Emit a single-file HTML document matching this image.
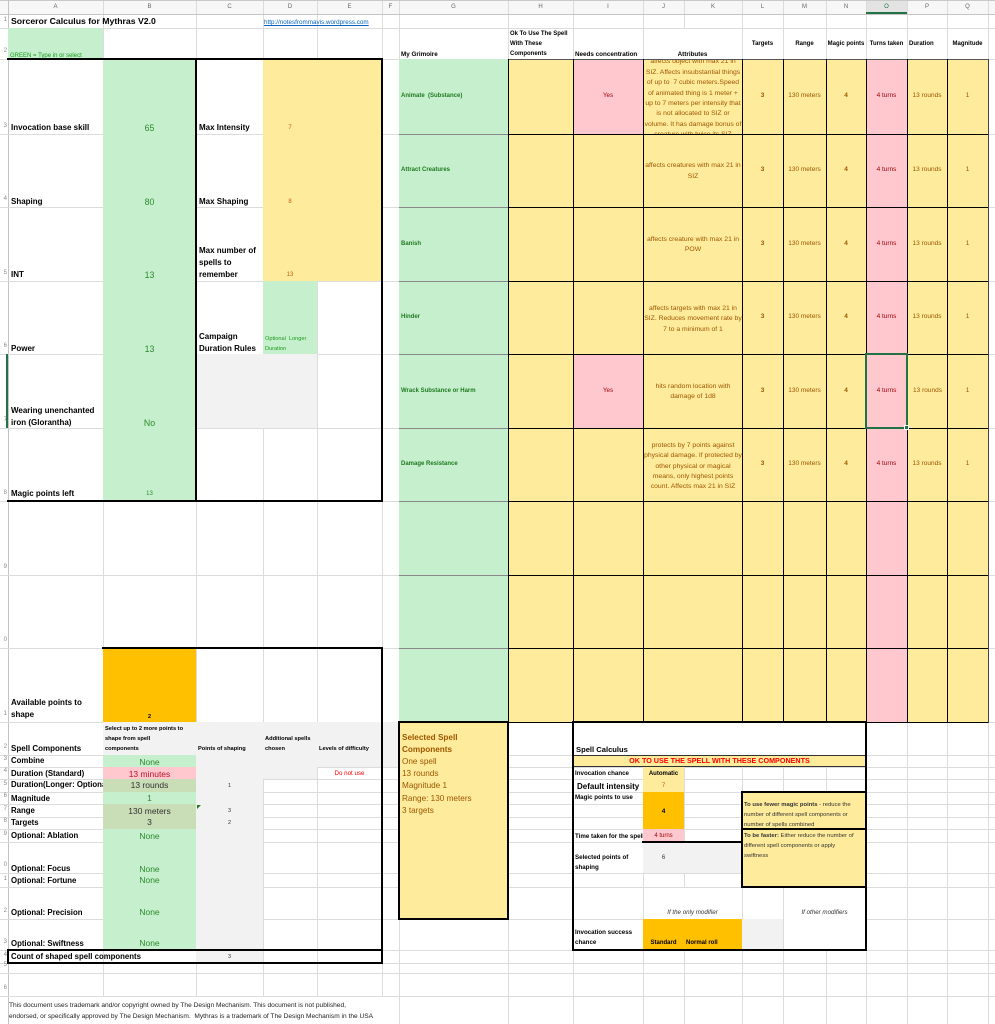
<!DOCTYPE html>
<html><head><meta charset="utf-8">
<style>
*{margin:0;padding:0;box-sizing:border-box}
html,body{width:995px;height:1024px;overflow:hidden;background:#fff}
body{position:relative;font-family:"Liberation Sans",Arial,sans-serif;color:#000}
div{position:absolute}
.h{left:0;width:995px;height:1px;background:#dcdcdc}
.v{top:0;width:1px;background:#dcdcdc}
.t{white-space:nowrap;overflow:hidden;display:flex;align-items:center;height:12px;line-height:12px}
.c{justify-content:center}
.b{font-weight:bold}
.gt{color:#2d8a2d}
.yt{color:#9c5700}
.rt{color:#9c0006}
.K{background:#000}
.gn{background:#c6efce}
.yw{background:#ffeb9c}
.pk{background:#ffc7ce}
.or{background:#ffc000}
.gy{background:#f2f2f2}
.ol{background:#c9ddb6}
.hd{top:1px;font-size:6px;color:#666}
.rn{left:0;width:7px;justify-content:flex-end;font-size:6px;color:#888}
.at{overflow:hidden;color:#9c5700;font-size:6.8px}
.at div{position:absolute;left:0;width:100%;text-align:center;line-height:10.4px;white-space:nowrap}
.lb{left:11px;font-size:8px;font-weight:bold}
.bv{left:103px;width:93px;justify-content:center;font-size:8.5px}
.gr{left:401px;width:106px;font-size:6px;font-weight:bold;color:#1f7a1f}
.vv{font-size:6.5px;color:#9c5700;justify-content:center}
.ck{left:575px;font-size:6.2px;font-weight:bold}
.sb{left:402px;width:104px;font-size:8.2px;color:#9c5700}
.bx{left:744px;width:121px;font-size:5.9px;color:#333}
</style></head><body>

<!-- header bar -->
<div style="left:0;top:0;width:995px;height:14px;background:#f7f7f7"></div>
<div style="left:866px;top:0;width:41px;height:14px;background:#e3e3e3"></div>

<!-- vertical gridlines -->
<div class="v" style="left:8px;height:1024px;background:#c4c4c4"></div>
<div class="v" style="left:103px;height:996px"></div>
<div class="v" style="left:196px;height:996px"></div>
<div class="v" style="left:263px;height:996px"></div>
<div class="v" style="left:317px;height:996px"></div>
<div class="v" style="left:382px;height:996px"></div>
<div class="v" style="left:399px;height:1024px"></div>
<div class="v" style="left:508px;height:1024px"></div>
<div class="v" style="left:573px;height:1024px"></div>
<div class="v" style="left:643px;height:1024px"></div>
<div class="v" style="left:684px;height:1024px"></div>
<div class="v" style="left:742px;height:1024px"></div>
<div class="v" style="left:783px;height:1024px"></div>
<div class="v" style="left:826px;height:1024px"></div>
<div class="v" style="left:866px;height:1024px"></div>
<div class="v" style="left:907px;height:1024px"></div>
<div class="v" style="left:947px;height:1024px"></div>
<div class="v" style="left:988px;height:1024px"></div>

<!-- horizontal gridlines -->
<div class="h" style="top:0;background:#c8c8c8"></div>
<div class="h" style="top:14px;background:#c4c4c4"></div>
<div class="h" style="top:28px"></div>
<div class="h" style="top:59px"></div>
<div class="h" style="top:134px"></div>
<div class="h" style="top:207px"></div>
<div class="h" style="top:281px"></div>
<div class="h" style="top:354px"></div>
<div class="h" style="top:428px"></div>
<div class="h" style="top:501px"></div>
<div class="h" style="top:575px"></div>
<div class="h" style="top:648px"></div>
<div class="h" style="top:722px"></div>
<div class="h" style="top:755px"></div>
<div class="h" style="top:767px"></div>
<div class="h" style="top:779px"></div>
<div class="h" style="top:792px"></div>
<div class="h" style="top:804px"></div>
<div class="h" style="top:817px"></div>
<div class="h" style="top:829px"></div>
<div class="h" style="top:842px"></div>
<div class="h" style="top:873px"></div>
<div class="h" style="top:887px"></div>
<div class="h" style="top:919px"></div>
<div class="h" style="top:950px"></div>
<div class="h" style="top:963px"></div>
<div class="h" style="top:973px"></div>
<div class="h" style="top:996px"></div>

<div style="left:866px;top:12px;width:41px;height:2px;background:#217346"></div>

<!-- header letters -->
<div class="t c hd" style="left:8px;width:95px">A</div>
<div class="t c hd" style="left:103px;width:93px">B</div>
<div class="t c hd" style="left:196px;width:67px">C</div>
<div class="t c hd" style="left:263px;width:54px">D</div>
<div class="t c hd" style="left:317px;width:65px">E</div>
<div class="t c hd" style="left:382px;width:17px">F</div>
<div class="t c hd" style="left:399px;width:109px">G</div>
<div class="t c hd" style="left:508px;width:65px">H</div>
<div class="t c hd" style="left:573px;width:70px">I</div>
<div class="t c hd" style="left:643px;width:41px">J</div>
<div class="t c hd" style="left:684px;width:58px">K</div>
<div class="t c hd" style="left:742px;width:41px">L</div>
<div class="t c hd" style="left:783px;width:43px">M</div>
<div class="t c hd" style="left:826px;width:40px">N</div>
<div class="t c hd" style="left:866px;width:41px;color:#217346">O</div>
<div class="t c hd" style="left:907px;width:40px">P</div>
<div class="t c hd" style="left:947px;width:41px">Q</div>

<!-- row numbers -->
<div class="t rn" style="top:14px">1</div>
<div class="t rn" style="top:45px">2</div>
<div class="t rn" style="top:120px">3</div>
<div class="t rn" style="top:193px">4</div>
<div class="t rn" style="top:267px">5</div>
<div class="t rn" style="top:340px">6</div>
<div class="t rn" style="top:414px">7</div>
<div class="t rn" style="top:487px">8</div>
<div class="t rn" style="top:561px">9</div>
<div class="t rn" style="top:634px">0</div>
<div class="t rn" style="top:708px">1</div>
<div class="t rn" style="top:741px">2</div>
<div class="t rn" style="top:753px">3</div>
<div class="t rn" style="top:765px">4</div>
<div class="t rn" style="top:778px">5</div>
<div class="t rn" style="top:790px">6</div>
<div class="t rn" style="top:803px">7</div>
<div class="t rn" style="top:815px">8</div>
<div class="t rn" style="top:828px">9</div>
<div class="t rn" style="top:859px">0</div>
<div class="t rn" style="top:873px">1</div>
<div class="t rn" style="top:905px">2</div>
<div class="t rn" style="top:936px">3</div>
<div class="t rn" style="top:949px">4</div>
<div class="t rn" style="top:959px">5</div>
<div class="t rn" style="top:982px">6</div>
<div style="left:6px;top:354px;width:2px;height:74px;background:#217346"></div>

<!-- LEFT fills -->
<div class="gn" style="left:8px;top:28px;width:95px;height:31px"></div>
<div class="gn" style="left:103px;top:59px;width:93px;height:442px"></div>
<div class="yw" style="left:263px;top:59px;width:119px;height:222px"></div>
<div class="gn" style="left:263px;top:281px;width:54px;height:73px"></div>
<div class="gy" style="left:196px;top:354px;width:121px;height:74px"></div>
<div class="or" style="left:103px;top:648px;width:93px;height:74px"></div>
<div class="gy" style="left:103px;top:722px;width:296px;height:33px"></div>
<div class="gy" style="left:196px;top:755px;width:203px;height:12px"></div>
<div class="gy" style="left:196px;top:767px;width:121px;height:12px"></div>
<div class="gy" style="left:196px;top:779px;width:67px;height:184px"></div>
<div class="gn" style="left:103px;top:755px;width:93px;height:12px"></div>
<div class="pk" style="left:103px;top:767px;width:93px;height:12px"></div>
<div class="ol" style="left:103px;top:779px;width:93px;height:13px"></div>
<div class="gn" style="left:103px;top:792px;width:93px;height:12px"></div>
<div class="ol" style="left:103px;top:804px;width:93px;height:25px"></div>
<div class="gn" style="left:103px;top:829px;width:93px;height:121px"></div>
<div style="left:197px;top:805px;width:0;height:0;border-top:4px solid #1e7b1e;border-right:4px solid transparent"></div>

<!-- RIGHT fills -->
<div style="left:644px;top:29px;width:98px;height:30px;background:#fff"></div>
<div class="gn" style="left:399px;top:59px;width:109px;height:663px"></div>
<div class="yw" style="left:508px;top:59px;width:480px;height:663px"></div>
<div class="pk" style="left:573px;top:59px;width:70px;height:75px"></div>
<div class="pk" style="left:573px;top:354px;width:70px;height:74px"></div>
<div class="pk" style="left:866px;top:59px;width:41px;height:663px"></div>

<!-- right grid borders -->
<div style="left:508px;top:59px;width:481px;height:1px;background:#555"></div>
<div class="K" style="left:508px;top:134px;width:481px;height:1px"></div>
<div class="K" style="left:508px;top:207px;width:481px;height:1px"></div>
<div class="K" style="left:508px;top:281px;width:481px;height:1px"></div>
<div class="K" style="left:508px;top:354px;width:481px;height:1px"></div>
<div class="K" style="left:508px;top:428px;width:481px;height:1px"></div>
<div class="K" style="left:508px;top:501px;width:481px;height:1px"></div>
<div class="K" style="left:508px;top:575px;width:481px;height:1px"></div>
<div class="K" style="left:508px;top:648px;width:481px;height:1px"></div>
<div class="K" style="left:508px;top:722px;width:481px;height:1px"></div>
<div style="left:399px;top:134px;width:109px;height:1px;background:#888"></div>
<div style="left:399px;top:207px;width:109px;height:1px;background:#888"></div>
<div style="left:399px;top:281px;width:109px;height:1px;background:#888"></div>
<div style="left:399px;top:354px;width:109px;height:1px;background:#888"></div>
<div style="left:399px;top:428px;width:109px;height:1px;background:#888"></div>
<div style="left:399px;top:501px;width:109px;height:1px;background:#888"></div>
<div style="left:399px;top:575px;width:109px;height:1px;background:#888"></div>
<div style="left:399px;top:648px;width:109px;height:1px;background:#888"></div>
<div style="left:399px;top:722px;width:109px;height:1px;background:#888"></div>
<div class="K" style="left:508px;top:59px;width:1px;height:664px"></div>
<div class="K" style="left:573px;top:59px;width:1px;height:664px"></div>
<div class="K" style="left:643px;top:59px;width:1px;height:664px"></div>
<div class="K" style="left:742px;top:59px;width:1px;height:664px"></div>
<div class="K" style="left:783px;top:59px;width:1px;height:664px"></div>
<div class="K" style="left:826px;top:59px;width:1px;height:664px"></div>
<div class="K" style="left:866px;top:59px;width:1px;height:664px"></div>
<div class="K" style="left:907px;top:59px;width:1px;height:664px"></div>
<div class="K" style="left:947px;top:59px;width:1px;height:664px"></div>
<div style="left:988px;top:59px;width:1px;height:664px;background:#444"></div>

<!-- selected cell O7 -->
<div style="left:865px;top:353px;width:43px;height:76px;border:2px solid #217346"></div>
<div style="left:904px;top:425px;width:5px;height:5px;background:#217346;border:1px solid #fff"></div>

<!-- LEFT boxes -->
<div class="K" style="left:7px;top:58px;width:376px;height:2px"></div>
<div class="K" style="left:7px;top:500px;width:376px;height:2px"></div>
<div class="K" style="left:381px;top:58px;width:2px;height:444px"></div>
<div class="K" style="left:195px;top:58px;width:2px;height:444px"></div>
<div class="K" style="left:102px;top:647px;width:281px;height:2px"></div>
<div class="K" style="left:381px;top:647px;width:2px;height:317px"></div>
<div class="K" style="left:7px;top:949px;width:376px;height:2px"></div>
<div class="K" style="left:7px;top:962px;width:376px;height:2px"></div>
<div class="K" style="left:7px;top:949px;width:2px;height:15px"></div>

<!-- LOWER RIGHT -->
<div class="yw" style="left:398px;top:721px;width:111px;height:199px;border:2px solid #000"></div>
<div style="left:573px;top:723px;width:293px;height:32px;background:#fff"></div>
<div class="yw" style="left:573px;top:755px;width:293px;height:12px;border-top:1px solid #333;border-bottom:1px solid #333"></div>
<div class="yw" style="left:643px;top:767px;width:41px;height:25px"></div>
<div class="or" style="left:643px;top:792px;width:41px;height:37px"></div>
<div class="pk" style="left:643px;top:829px;width:41px;height:13px"></div>
<div class="gy" style="left:643px;top:843px;width:99px;height:30px"></div>
<div style="left:644px;top:888px;width:98px;height:31px;background:#fff"></div>
<div style="left:784px;top:888px;width:82px;height:62px;background:#fff"></div>
<div class="or" style="left:643px;top:919px;width:99px;height:31px"></div>
<div class="gy" style="left:742px;top:919px;width:41px;height:31px"></div>
<div class="K" style="left:642px;top:841px;width:101px;height:2px"></div>
<div class="yw" style="left:741px;top:791px;width:126px;height:97px;border:2px solid #000"></div>
<div class="K" style="left:741px;top:828px;width:126px;height:2px"></div>
<div style="left:572px;top:721px;width:295px;height:230px;border:2px solid #000"></div>

<!-- ===== TEXT ===== -->
<div class="t b" style="left:11px;top:15px;width:250px;font-size:8.7px">Sorceror Calculus for Mythras V2.0</div>
<div class="t" style="left:264px;top:17px;width:118px;font-size:6.3px;color:#0563c1"><span style="text-decoration:underline">http://notesfrommavis.wordpress.com</span></div>
<div class="t" style="left:10px;top:50px;width:93px;font-size:6px;color:#1a9a1a">GREEN = Type in or select</div>

<div class="t b" style="left:401px;top:49px;width:106px;font-size:6.3px">My Grimoire</div>
<div class="t b" style="left:510px;top:28px;width:63px;font-size:6px">Ok To Use The Spell</div>
<div class="t b" style="left:510px;top:38px;width:63px;font-size:6px">With These</div>
<div class="t b" style="left:510px;top:48px;width:63px;font-size:6px">Components</div>
<div class="t b" style="left:575px;top:49px;width:68px;font-size:6.3px">Needs concentration</div>
<div class="t b c" style="left:643px;top:49px;width:99px;font-size:6.3px">Attributes</div>
<div class="t b c" style="left:742px;top:38px;width:41px;font-size:6px">Targets</div>
<div class="t b c" style="left:783px;top:38px;width:43px;font-size:6px">Range</div>
<div class="t b c" style="left:826px;top:38px;width:40px;font-size:6px">Magic points</div>
<div class="t b c" style="left:866px;top:38px;width:41px;font-size:6px">Turns taken</div>
<div class="t b" style="left:909px;top:38px;width:38px;font-size:6px">Duration</div>
<div class="t b c" style="left:947px;top:38px;width:41px;font-size:6px">Magnitude</div>

<!-- left labels rows 3-8 -->
<div class="t lb" style="top:122px;width:92px">Invocation base skill</div>
<div class="t lb" style="top:196px;width:92px">Shaping</div>
<div class="t lb" style="top:269px;width:92px">INT</div>
<div class="t lb" style="top:343px;width:92px">Power</div>
<div class="t lb" style="top:405px;width:92px">Wearing unenchanted</div>
<div class="t lb" style="top:417px;width:92px">iron (Glorantha)</div>
<div class="t lb" style="top:488px;width:92px">Magic points left</div>
<div class="t bv gt" style="top:122px;font-size:8.8px">65</div>
<div class="t bv gt" style="top:196px;font-size:8.8px">80</div>
<div class="t bv gt" style="top:269px;font-size:8.8px">13</div>
<div class="t bv gt" style="top:343px;font-size:8.8px">13</div>
<div class="t bv gt" style="top:417px;font-size:8.8px">No</div>
<div class="t bv gt" style="top:488px;font-size:6px">13</div>

<div class="t b" style="left:199px;top:122px;width:64px;font-size:8px">Max Intensity</div>
<div class="t b" style="left:199px;top:196px;width:64px;font-size:8px">Max Shaping</div>
<div class="t b" style="left:199px;top:245px;width:64px;font-size:8px">Max number of</div>
<div class="t b" style="left:199px;top:257px;width:64px;font-size:8px">spells to</div>
<div class="t b" style="left:199px;top:269px;width:64px;font-size:8px">remember</div>
<div class="t b" style="left:199px;top:331px;width:64px;font-size:8px">Campaign</div>
<div class="t b" style="left:199px;top:343px;width:64px;font-size:8px">Duration Rules</div>
<div class="t c" style="left:263px;top:122px;width:54px;font-size:6px;color:#c55a11">7</div>
<div class="t c" style="left:263px;top:196px;width:54px;font-size:6px;color:#c55a11">8</div>
<div class="t c" style="left:263px;top:269px;width:54px;font-size:6px;color:#c55a11">13</div>
<div class="t gt" style="left:265px;top:333px;width:60px;font-size:5.6px;color:#1a9a1a">Optional&nbsp; Longer</div>
<div class="t gt" style="left:265px;top:343px;width:52px;font-size:5.6px;color:#1a9a1a">Duration</div>

<!-- grimoire rows -->
<div class="t gr" style="top:90px">Animate&nbsp; (Substance)</div>
<div class="t gr" style="top:164px">Attract Creatures</div>
<div class="t gr" style="top:238px">Banish</div>
<div class="t gr" style="top:311px">Hinder</div>
<div class="t gr" style="top:385px">Wrack Substance or Harm</div>
<div class="t gr" style="top:458px">Damage Resistance</div>
<div class="t c rt" style="left:573px;top:90px;width:70px;font-size:6.2px">Yes</div>
<div class="t c rt" style="left:573px;top:385px;width:70px;font-size:6.2px">Yes</div>

<div class="at" style="left:644px;top:60px;width:98px;height:74px"><div style="top:-2.7px">affects object with max 21 in<br>SIZ. Affects insubstantial things<br>of up to&nbsp; 7 cubic meters.Speed<br>of animated thing is 1 meter +<br>up to 7 meters per intensity that<br>is not allocated to SIZ or<br>volume. It has damage bonus of<br>creature with twice its SIZ</div></div>
<div class="at" style="left:644px;top:135px;width:98px;height:72px"><div style="top:26.1px">affects creatures with max 21 in<br>SIZ</div></div>
<div class="at" style="left:644px;top:208px;width:98px;height:73px"><div style="top:26.8px">affects creature with max 21 in<br>POW</div></div>
<div class="at" style="left:644px;top:282px;width:98px;height:72px"><div style="top:21.8px">affects targets with max 21 in<br>SIZ. Reduces movement rate by<br>7 to a minimum of 1</div></div>
<div class="at" style="left:644px;top:355px;width:98px;height:73px"><div style="top:26.8px">hits random location with<br>damage of 1d8</div></div>
<div class="at" style="left:644px;top:429px;width:98px;height:72px"><div style="top:11.8px">protects by 7 points against<br>physical damage. If protected by<br>other physical or magical<br>means, only highest points<br>count. Affects max 21 in SIZ</div></div>

<!-- L-Q values -->
<div class="t vv b" style="left:742px;top:90px;width:41px">3</div>
<div class="t vv" style="left:783px;top:90px;width:43px">130 meters</div>
<div class="t vv b" style="left:826px;top:90px;width:40px">4</div>
<div class="t vv rt" style="left:866px;top:90px;width:41px;color:#9c0006">4 turns</div>
<div class="t vv" style="left:907px;top:90px;width:40px">13 rounds</div>
<div class="t vv" style="left:947px;top:90px;width:41px">1</div>

<div class="t vv b" style="left:742px;top:164px;width:41px">3</div>
<div class="t vv" style="left:783px;top:164px;width:43px">130 meters</div>
<div class="t vv b" style="left:826px;top:164px;width:40px">4</div>
<div class="t vv" style="left:866px;top:164px;width:41px;color:#9c0006">4 turns</div>
<div class="t vv" style="left:907px;top:164px;width:40px">13 rounds</div>
<div class="t vv" style="left:947px;top:164px;width:41px">1</div>

<div class="t vv b" style="left:742px;top:238px;width:41px">3</div>
<div class="t vv" style="left:783px;top:238px;width:43px">130 meters</div>
<div class="t vv b" style="left:826px;top:238px;width:40px">4</div>
<div class="t vv" style="left:866px;top:238px;width:41px;color:#9c0006">4 turns</div>
<div class="t vv" style="left:907px;top:238px;width:40px">13 rounds</div>
<div class="t vv" style="left:947px;top:238px;width:41px">1</div>

<div class="t vv b" style="left:742px;top:311px;width:41px">3</div>
<div class="t vv" style="left:783px;top:311px;width:43px">130 meters</div>
<div class="t vv b" style="left:826px;top:311px;width:40px">4</div>
<div class="t vv" style="left:866px;top:311px;width:41px;color:#9c0006">4 turns</div>
<div class="t vv" style="left:907px;top:311px;width:40px">13 rounds</div>
<div class="t vv" style="left:947px;top:311px;width:41px">1</div>

<div class="t vv b" style="left:742px;top:385px;width:41px">3</div>
<div class="t vv" style="left:783px;top:385px;width:43px">130 meters</div>
<div class="t vv b" style="left:826px;top:385px;width:40px">4</div>
<div class="t vv" style="left:867px;top:385px;width:39px;color:#9c0006">4 turns</div>
<div class="t vv" style="left:908px;top:385px;width:39px">13 rounds</div>
<div class="t vv" style="left:947px;top:385px;width:41px">1</div>

<div class="t vv b" style="left:742px;top:458px;width:41px">3</div>
<div class="t vv" style="left:783px;top:458px;width:43px">130 meters</div>
<div class="t vv b" style="left:826px;top:458px;width:40px">4</div>
<div class="t vv" style="left:866px;top:458px;width:41px;color:#9c0006">4 turns</div>
<div class="t vv" style="left:907px;top:458px;width:40px">13 rounds</div>
<div class="t vv" style="left:947px;top:458px;width:41px">1</div>

<!-- row 11-12 -->
<div class="t lb" style="top:697px;width:92px">Available points to</div>
<div class="t lb" style="top:709px;width:92px">shape</div>
<div class="t b c" style="left:103px;top:711px;width:93px;font-size:5.8px">2</div>
<div class="t lb" style="top:743px;width:92px">Spell Components</div>
<div class="t b" style="left:105px;top:723px;width:91px;font-size:5.7px">Select up to 2 more points to</div>
<div class="t b" style="left:105px;top:733px;width:91px;font-size:5.7px">shape from spell</div>
<div class="t b" style="left:105px;top:743px;width:91px;font-size:5.7px">components</div>
<div class="t b" style="left:198px;top:743px;width:65px;font-size:5.7px">Points of shaping</div>
<div class="t b" style="left:265px;top:733px;width:52px;font-size:5.7px">Additional spells</div>
<div class="t b" style="left:265px;top:743px;width:52px;font-size:5.7px">chosen</div>
<div class="t b" style="left:319px;top:743px;width:63px;font-size:5.7px">Levels of difficulty</div>

<!-- rows 13-24 -->
<div class="t lb" style="top:755px;width:92px;font-size:7.8px">Combine</div>
<div class="t lb" style="top:768px;width:92px;font-size:7.8px">Duration (Standard)</div>
<div class="t lb" style="top:779px;width:92px;font-size:7.8px">Duration(Longer: Optional)</div>
<div class="t lb" style="top:793px;width:92px;font-size:7.8px">Magnitude</div>
<div class="t lb" style="top:805px;width:92px;font-size:7.8px">Range</div>
<div class="t lb" style="top:817px;width:92px;font-size:7.8px">Targets</div>
<div class="t lb" style="top:830px;width:92px;font-size:7.8px">Optional: Ablation</div>
<div class="t lb" style="top:863px;width:92px;font-size:7.8px">Optional: Focus</div>
<div class="t lb" style="top:875px;width:92px;font-size:7.8px">Optional: Fortune</div>
<div class="t lb" style="top:907px;width:92px;font-size:7.8px">Optional: Precision</div>
<div class="t lb" style="top:938px;width:92px;font-size:7.8px">Optional: Swiftness</div>
<div class="t lb" style="top:951px;width:180px;font-size:7.8px">Count of shaped spell components</div>

<div class="t bv gt" style="top:756px">None</div>
<div class="t bv" style="top:768px;color:#b8142a">13 minutes</div>
<div class="t bv" style="top:779px;color:#333">13 rounds</div>
<div class="t bv gt" style="top:792px">1</div>
<div class="t bv" style="top:805px;color:#333">130 meters</div>
<div class="t bv" style="top:816px;color:#333">3</div>
<div class="t bv gt" style="top:830px">None</div>
<div class="t bv gt" style="top:863px">None</div>
<div class="t bv gt" style="top:874px">None</div>
<div class="t bv gt" style="top:906px">None</div>
<div class="t bv gt" style="top:937px">None</div>

<div class="t c" style="left:196px;top:780px;width:67px;font-size:5.5px;color:#333">1</div>
<div class="t c" style="left:196px;top:805px;width:67px;font-size:5.5px;color:#333">3</div>
<div class="t c" style="left:196px;top:817px;width:67px;font-size:5.5px;color:#333">2</div>
<div class="t c" style="left:196px;top:951px;width:67px;font-size:5.5px;color:#333">3</div>
<div class="t c" style="left:317px;top:768px;width:65px;font-size:6.2px;color:#ff0000">Do not use</div>

<!-- selected spell components box -->
<div class="t sb b" style="top:732px">Selected Spell</div>
<div class="t sb b" style="top:744px">Components</div>
<div class="t sb" style="top:756px">One spell</div>
<div class="t sb" style="top:768px">13 rounds</div>
<div class="t sb" style="top:780px">Magnitude 1</div>
<div class="t sb" style="top:793px">Range: 130 meters</div>
<div class="t sb" style="top:805px">3 targets</div>

<!-- spell calculus -->
<div class="t b" style="left:576px;top:744px;width:200px;font-size:7.6px">Spell Calculus</div>
<div class="t b c" style="left:573px;top:755px;width:293px;font-size:7.2px;color:#ff0000">OK TO USE THE SPELL WITH THESE COMPONENTS</div>
<div class="t ck" style="top:768px;width:68px">Invocation chance</div>
<div class="t b c" style="left:643px;top:768px;width:41px;font-size:6px">Automatic</div>
<div class="t b" style="left:577px;top:781px;width:66px;font-size:8px">Default intensity</div>
<div class="t c" style="left:643px;top:780px;width:41px;font-size:6px;color:#c55a11">7</div>
<div class="t ck" style="top:792px;width:68px">Magic points to use</div>
<div class="t b c" style="left:643px;top:806px;width:41px;font-size:6.5px">4</div>
<div class="t ck" style="top:831px;width:68px">Time taken for the spell</div>
<div class="t c rt" style="left:643px;top:830px;width:41px;font-size:6px">4 turns</div>
<div class="t ck" style="top:852px;width:68px">Selected points of</div>
<div class="t ck" style="top:862px;width:68px">shaping</div>
<div class="t c" style="left:643px;top:852px;width:41px;font-size:6px;color:#333">6</div>
<div class="t c" style="left:643px;top:907px;width:99px;font-size:6.2px;font-style:italic;color:#333">If the only modifier</div>
<div class="t c" style="left:783px;top:907px;width:83px;font-size:6.2px;font-style:italic;color:#333">If other modifiers</div>
<div class="t ck" style="top:927px;width:68px">Invocation success</div>
<div class="t ck" style="top:937px;width:68px">chance</div>
<div class="t b c" style="left:643px;top:937px;width:41px;font-size:6px">Standard</div>
<div class="t b" style="left:686px;top:937px;width:56px;font-size:6px">Normal roll</div>

<div class="t bx" style="top:799px"><span><b>To use fewer magic points</b> - reduce the</span></div>
<div class="t bx" style="top:809px">number of different spell components or</div>
<div class="t bx" style="top:819px">number of spells combined</div>
<div class="t bx" style="top:830px"><span><b>To be faster:</b> Either reduce the number of</span></div>
<div class="t bx" style="top:840px">different spell components or apply</div>
<div class="t bx" style="top:850px">swiftness</div>

<!-- disclaimer -->
<div class="t" style="left:9px;top:1000px;width:390px;font-size:6.6px;color:#222">This document uses trademark and/or copyright owned by The Design Mechanism. This document is not published,</div>
<div class="t" style="left:9px;top:1011px;width:390px;font-size:6.6px;color:#222">endorsed, or specifically approved by The Design Mechanism.&nbsp; Mythras is a trademark of The Design Mechanism in the USA</div>

</body></html>
